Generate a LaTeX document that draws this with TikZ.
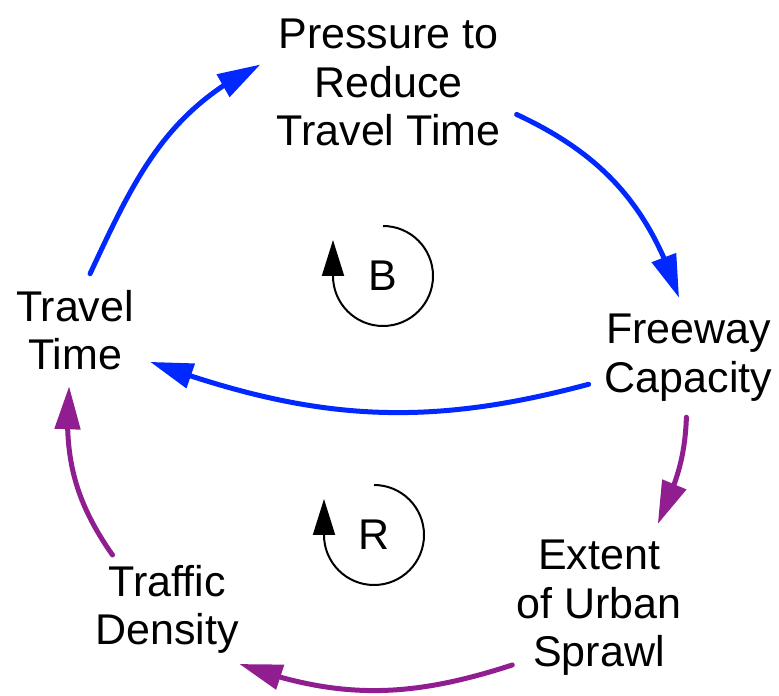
\documentclass[tikz,border=0pt]{standalone}
\usepackage{fontspec}
\setmainfont{Liberation Sans}
\usetikzlibrary{arrows.meta,bending}
\definecolor{linkblue}{RGB}{0,40,255}
\definecolor{linkpurple}{RGB}{145,30,145}

\begin{document}
\begin{tikzpicture}[x=1pt,y=1pt,font=\fontsize{43}{48.5}\selectfont,
  var/.style={align=center,inner sep=16pt},
  blink/.style={draw=linkblue,line width=5pt,line cap=round,-{Triangle[length=43pt,width=25pt,flex]}},
  plink/.style={draw=linkpurple,line width=5pt,line cap=round,-{Triangle[length=43pt,width=25pt,flex]}},
  loopline/.style={line width=2pt,-{Triangle[length=36pt,width=22pt]}}]
  \useasboundingbox (0,0) rectangle (779,696);
  \node[var] (press) at (388.5,613.5) {Pressure to\\Reduce\\Travel Time};
  \node[var] (travel) at (75,366) {Travel\\Time};
  \node[var] (freeway) at (688.5,338.5) {Freeway\\Capacity};
  \node[var] (extent) at (599,88) {Extent\\of Urban\\Sprawl};
  \node[var,inner sep=10pt] (density) at (167,86.5) {Traffic\\Density};
  \node (bal) at (383,420) {B};
  \node (reinf) at (374,161) {R};
  % balancing loop
  \draw[blink] (travel.75) to[out=65,in=206] (press.172);
  \draw[blink] (press.-14) to[out=-25,in=108] (freeway.99);
  \draw[blink] (freeway.195) to[out=195,in=-20] (travel.-23);
  % reinforcing loop
  \draw[plink] (freeway.-92) to[out=-92,in=66] (extent.55);
  \draw[plink] ([xshift=12pt]extent.210) to[out=198,in=-20] (density.-37);
  \draw[plink] (density.135) to[out=125,in=-95] (travel.-96);
  % loop markers
  \draw[loopline] (bal) ++(0,50) arc[start angle=90,end angle=-180,radius=50] -- ++(0,36);
  \draw[loopline] (reinf) ++(0,50) arc[start angle=90,end angle=-180,radius=50] -- ++(0,36);
\end{tikzpicture}
\end{document}
